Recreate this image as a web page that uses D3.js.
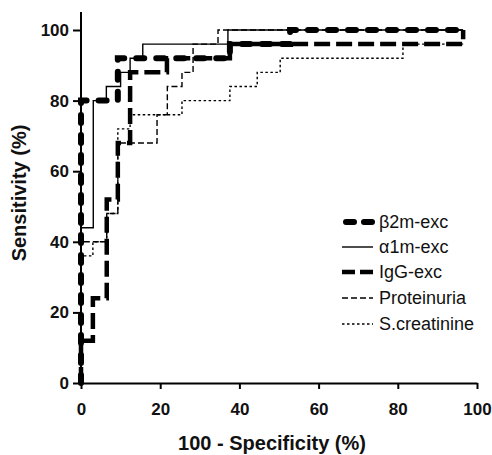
<!DOCTYPE html>
<html lang="en">
  <head>
    <meta charset="UTF-8" />
    <title>ROC curves</title>
    <script src="https://d3js.org/d3.v7.min.js"></script>
    <style>
      body { margin: 0; background: white; }
      svg text { font-family: "Liberation Sans", Arial, sans-serif; fill: #111; }
    </style>
  </head>
  <body>
    <div class="visHolder"></div>
    <script>
      // ----------- Data (100-specificity, sensitivity) at each step ----------- //
      var b2mX = [0, 0, 9.3, 37.6, 52.8, 96.5];
      var b2mY = [0, 80, 92, 96, 100, 100];

      var a1mX = [0, 0, 3.1, 6.4, 10, 12.4, 15.6, 37.1, 96.5];
      var a1mY = [0, 44, 80, 84, 88, 92, 96, 100, 100];

      var iggX = [0, 0, 3, 6.5, 9.3, 12.4, 21.7, 37.6, 96.5];
      var iggY = [0, 12, 24, 52, 68, 88, 92, 96, 100];

      var protX = [0, 0, 6.5, 9.3, 19.2, 21.8, 25.5, 28.3, 34.6, 96.5];
      var protY = [0, 40, 48, 68, 76, 84, 88, 96, 100, 100];

      var creaX = [0, 0, 3, 6.5, 9.3, 12.4, 25.5, 37.6, 44.5, 50.3, 81.3, 96.5];
      var creaY = [0, 36, 40, 48, 72, 76, 80, 84, 88, 92, 96, 96];

      var tickValues = [0, 20, 40, 60, 80, 100];

      var series = [
        { name: "\u03b22m-exc", x: b2mX, y: b2mY, width: 6, dash: "8,12", cap: "round" },
        { name: "\u03b11m-exc", x: a1mX, y: a1mY, width: 1.4, dash: null, cap: "butt" },
        { name: "IgG-exc", x: iggX, y: iggY, width: 4.5, dash: "16,6", cap: "butt" },
        { name: "Proteinuria", x: protX, y: protY, width: 1.4, dash: "6,3", cap: "butt" },
        { name: "S.creatinine", x: creaX, y: creaY, width: 1.4, dash: "2.5,2.5", cap: "butt" }
      ];

      // ----------- Main SVG ----------- //
      var W = 492, H = 455;
      var svg = d3.select(".visHolder").append("svg")
        .attr("width", W)
        .attr("height", H);

      var xScale = d3.scaleLinear().domain([0, 100]).range([81, 477]);
      var yScale = d3.scaleLinear().domain([0, 100]).range([383, 30]);

      // ----------- Curves ----------- //
      var line = d3.line()
        .x(d => xScale(d[0]))
        .y(d => yScale(d[1]))
        .curve(d3.curveStepAfter);

      series.slice().reverse().forEach(function(s) {
        var pts = s.x.map((v, i) => [v, s.y[i]]);
        svg.append("path")
          .attr("d", line(pts))
          .attr("fill", "none")
          .attr("stroke", "#000")
          .attr("stroke-width", s.width)
          .attr("stroke-linecap", s.cap)
          .attr("stroke-dasharray", s.dash);
      });

      // ----------- Axes ----------- //
      var xAxis = d3.axisBottom(xScale).tickValues(tickValues).tickSize(6).tickSizeOuter(0);
      var gx = svg.append("g")
        .attr("transform", "translate(0," + yScale(0) + ")")
        .call(xAxis);
      gx.select(".domain").attr("stroke-width", 2);
      gx.selectAll(".tick line").attr("stroke-width", 2);
      gx.selectAll(".tick text")
        .attr("dy", "1.35em")
        .style("font-size", "17px")
        .style("font-weight", "bold");

      var yAxis = d3.axisLeft(yScale).tickValues(tickValues).tickSize(8).tickSizeOuter(0);
      var gy = svg.append("g")
        .attr("transform", "translate(" + xScale(0) + ",0)")
        .call(yAxis);
      gy.select(".domain").attr("d", "M0," + yScale(0) + "V12").attr("stroke-width", 2);
      gy.selectAll(".tick line").attr("stroke-width", 2);
      gy.selectAll(".tick text")
        .attr("x", -12)
        .style("font-size", "17px")
        .style("font-weight", "bold");

      svg.append("text")
        .attr("x", 272)
        .attr("y", 450)
        .attr("text-anchor", "middle")
        .style("font-size", "20px")
        .style("font-weight", "bold")
        .text("100 - Specificity (%)");

      svg.append("text")
        .attr("transform", "translate(26," + 193 + ") rotate(-90)")
        .attr("text-anchor", "middle")
        .style("font-size", "20px")
        .style("font-weight", "bold")
        .text("Sensitivity (%)");

      // ----------- Legend ----------- //
      var legendY = [222, 247, 272, 298, 324];
      series.forEach(function(s, i) {
        var g = svg.append("g").attr("transform", "translate(342," + legendY[i] + ")");
        g.append("line")
          .attr("x1", s.cap === "round" ? 4 : 0)
          .attr("x2", 31)
          .attr("stroke", "#000")
          .attr("stroke-width", s.width)
          .attr("stroke-linecap", s.cap)
          .attr("stroke-dasharray", s.cap === "round" ? "8,10" : (s.dash === "16,6" ? "13,5" : s.dash));
        g.append("text")
          .attr("x", 37)
          .attr("y", 6)
          .style("font-size", "18px")
          .text(s.name);
      });
    </script>
  </body>
</html>
